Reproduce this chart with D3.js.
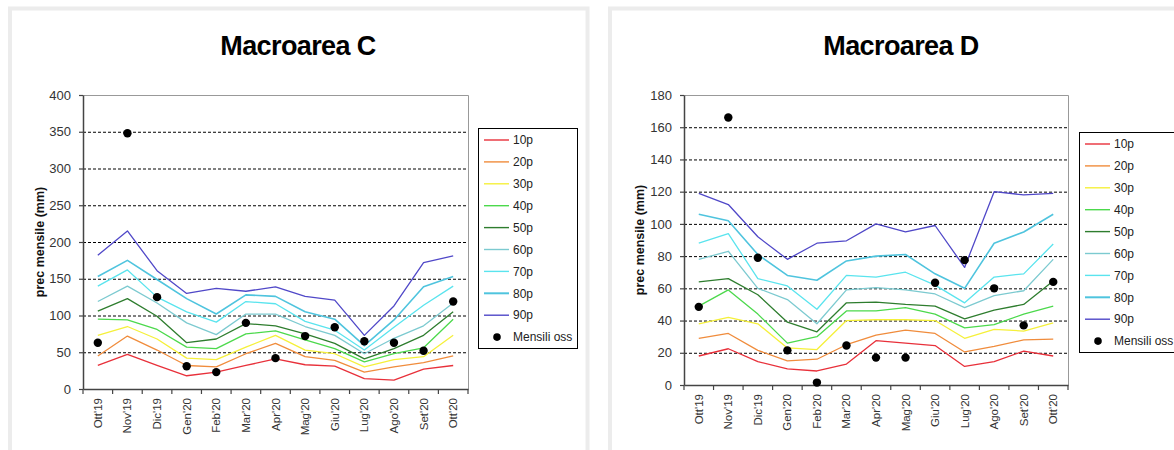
<!DOCTYPE html>
<html>
<head>
<meta charset="utf-8">
<script src="https://cdn.jsdelivr.net/npm/d3@7"></script>
<style>
  html, body { margin: 0; padding: 0; background: #ffffff; }
  svg { display: block; font-family: "Liberation Sans", Arial, sans-serif; }
</style>
</head>
<body>
<svg id="chart" width="1174" height="450"></svg>
<script>
// ---------- DATA ----------
const months = ["Ott'19","Nov'19","Dic'19","Gen'20","Feb'20","Mar'20","Apr'20","Mag'20","Giu'20","Lug'20","Ago'20","Set'20","Ott'20"];
const seriesNames = ["10p","20p","30p","40p","50p","60p","70p","80p","90p"];
const obsName = "Mensili oss";
const seriesColors = ["#e8303a","#f08c3c","#f5f03a","#4cd94c","#2e7d2e","#7ccad0","#5ae4ee","#4fc4de","#5048c8"];

const ticksC = [0,50,100,150,200,250,300,350,400];
const ticksD = [0,20,40,60,80,100,120,140,160,180];

// Macroarea C
const c10 = [32, 47, 32, 18, 23, 32, 41, 33, 31, 14, 12, 27, 32];
const c20 = [45, 72, 53, 32, 30, 48, 62, 44, 39, 23, 30, 36, 45];
const c30 = [73, 85, 68, 42, 40, 57, 73, 53, 48, 30, 40, 44, 73];
const c40 = [95, 94, 81, 57, 55, 75, 79, 67, 55, 37, 48, 56, 95];
const c50 = [106, 123, 99, 63, 68, 89, 86, 75, 62, 41, 55, 73, 105];
const c60 = [119, 140, 117, 90, 74, 102, 102, 85, 73, 48, 69, 86, 117];
const c70 = [140, 162, 125, 105, 91, 119, 116, 92, 80, 53, 84, 114, 140];
const c80 = [153, 175, 149, 123, 102, 128, 126, 105, 95, 59, 94, 139, 153];
const c90 = [182, 215, 161, 130, 137, 133, 139, 126, 121, 73, 113, 172, 181];
const cObs = [63, 348, 125, 31, 23, 90, 42, 72, 84, 65, 63, 52, 119];

// Macroarea D
const d10 = [18, 22.5, 14.5, 10, 8.7, 13, 27.5, 26, 24.5, 11.5, 14.5, 21, 18];
const d20 = [29, 32, 21.5, 15, 16, 25, 31, 34, 32, 20.5, 24, 28, 28.5];
const d30 = [38, 42, 38, 23, 22, 40, 40.5, 40.5, 40, 29, 34.5, 33.5, 38.5];
const d40 = [49, 59, 44, 26, 30, 46, 46, 48, 44, 35.5, 37.5, 44, 49];
const d50 = [64, 66, 56, 39, 33, 51, 51.5, 50, 49, 41, 46.5, 50, 64.5];
const d60 = [78, 83, 60, 53, 38, 59, 60.5, 59, 56.5, 48, 55.5, 58.5, 78];
const d70 = [88, 94, 66, 61.5, 47, 68, 67, 70, 62, 51, 67, 69, 87.5];
const d80 = [106, 102, 81, 68, 65, 77, 80, 81, 69, 60, 88, 95, 106];
const d90 = [119, 112, 92, 78, 88, 89.5, 100, 95, 99, 73, 120, 118, 119];
const dObs = [48.5, 166, 79, 21.5, 1.5, 24.5, 17, 17, 63.5, 77.5, 60, 37, 64];

// ---------- DRAW ----------
const svg = d3.select("#chart");

function panel(x0, x1) {
  svg.append("rect").attr("x", x0).attr("y", 8.5).attr("width", x1 - x0).attr("height", 445)
    .attr("fill", "#ffffff").attr("stroke", "#ececec").attr("stroke-width", 4);
}
panel(10, 587.5);
panel(610, 1180);

function drawChart(cfg) {
  const g = svg.append("g");
  const x = d3.scaleBand().domain(months).range([cfg.left, cfg.right]).padding(0);
  const y = d3.scaleLinear().domain([0, cfg.ticks[cfg.ticks.length - 1]]).range([cfg.bottom, cfg.top]);
  const cx = m => x(m) + x.bandwidth() / 2;

  // title
  g.append("text").attr("x", cfg.titleX).attr("y", 55).attr("text-anchor", "middle")
    .attr("font-size", 27).attr("font-weight", "bold").attr("fill", "#000")
    .attr("letter-spacing", -0.6).text(cfg.title);

  // gridlines
  g.append("g").selectAll("line").data(cfg.ticks.slice(1, -1)).join("line")
    .attr("x1", cfg.left).attr("x2", cfg.right)
    .attr("y1", d => y(d) + 0.5).attr("y2", d => y(d) + 0.5)
    .attr("stroke", "#000").attr("stroke-width", 1).attr("stroke-dasharray", "3,2");

  // top and right border
  g.append("path")
    .attr("d", `M${cfg.left},${y(cfg.ticks[cfg.ticks.length-1])+0.5}H${cfg.right+0.5}V${cfg.bottom}`)
    .attr("fill", "none").attr("stroke", "#999").attr("stroke-width", 1);

  // y axis
  const ya = g.append("g").attr("transform", `translate(${cfg.left},0)`)
    .call(d3.axisLeft(y).tickValues(cfg.ticks).tickSize(4).tickPadding(8).tickSizeOuter(0));
  ya.select(".domain").attr("stroke", "#444").attr("stroke-width", 1.5);
  ya.selectAll(".tick line").attr("stroke", "#444").attr("stroke-width", 1.2);
  ya.selectAll(".tick text").attr("font-size", 13).attr("fill", "#333")
    .attr("font-family", "'Liberation Sans', Arial, sans-serif");

  // x axis
  const xa = g.append("g").attr("transform", `translate(0,${cfg.bottom})`)
    .call(d3.axisBottom(x).tickSize(0).tickSizeOuter(0).tickFormat(""));
  xa.select(".domain").attr("stroke", "#444").attr("stroke-width", 1.5);
  const edges = months.map(m => x(m)).concat([x.range()[1]]);
  g.append("g").selectAll("line").data(edges).join("line")
    .attr("x1", d => d).attr("x2", d => d)
    .attr("y1", cfg.bottom).attr("y2", cfg.bottom + 5)
    .attr("stroke", "#444").attr("stroke-width", 1.2);
  g.append("g").selectAll("text").data(months).join("text")
    .attr("transform", d => `translate(${cx(d)},${cfg.bottom + 9}) rotate(-90)`)
    .attr("dy", "0.35em").attr("text-anchor", "end")
    .attr("font-size", 11.5).attr("fill", "#333").text(d => d);

  // y title
  g.append("text")
    .attr("transform", `translate(${cfg.yTitleX},${(cfg.top + cfg.bottom) / 2}) rotate(-90)`)
    .attr("text-anchor", "middle").attr("dy", "0.35em")
    .attr("font-size", 12.5).attr("font-weight", "bold").attr("fill", "#111")
    .text("prec mensile (mm)");

  // series lines
  const line = d3.line().x((d, i) => cx(months[i])).y(d => y(d));
  cfg.series.forEach((s, k) => {
    g.append("path").datum(s).attr("d", line)
      .attr("fill", "none").attr("stroke", seriesColors[k])
      .attr("stroke-width", k === 7 ? 1.6 : 1.3).attr("stroke-linejoin", "round");
  });

  // observed
  g.append("g").selectAll("circle").data(cfg.obs).join("circle")
    .attr("cx", (d, i) => cx(months[i])).attr("cy", d => y(d)).attr("r", 4.2)
    .attr("fill", "#000");

  // legend
  const lg = g.append("g").attr("transform", `translate(${cfg.legX},${cfg.legY})`);
  lg.append("rect").attr("x", 0.5).attr("y", 0.5).attr("width", 99).attr("height", 220)
    .attr("fill", "#fff").attr("stroke", "#000").attr("stroke-width", 1);
  const items = seriesNames.concat([obsName]);
  items.forEach((name, i) => {
    const yy = 12 + i * 21.9;
    if (i < seriesNames.length) {
      lg.append("line").attr("x1", 6).attr("x2", 31).attr("y1", yy).attr("y2", yy)
        .attr("stroke", seriesColors[i]).attr("stroke-width", i === 7 ? 2 : 1.4);
    } else {
      lg.append("circle").attr("cx", 19).attr("cy", yy).attr("r", 3.8).attr("fill", "#000");
    }
    lg.append("text").attr("x", 35).attr("y", yy).attr("dy", "0.35em")
      .attr("font-size", 12).attr("fill", "#222").text(name);
  });
}

drawChart({
  title: "Macroarea C", titleX: 298,
  left: 83, right: 468, top: 95, bottom: 389,
  ticks: ticksC, yTitleX: 40,
  series: [c10, c20, c30, c40, c50, c60, c70, c80, c90], obs: cObs,
  legX: 478, legY: 128
});
drawChart({
  title: "Macroarea D", titleX: 901,
  left: 684, right: 1068, top: 95, bottom: 385,
  ticks: ticksD, yTitleX: 640,
  series: [d10, d20, d30, d40, d50, d60, d70, d80, d90], obs: dObs,
  legX: 1079, legY: 132
});
</script>
</body>
</html>
